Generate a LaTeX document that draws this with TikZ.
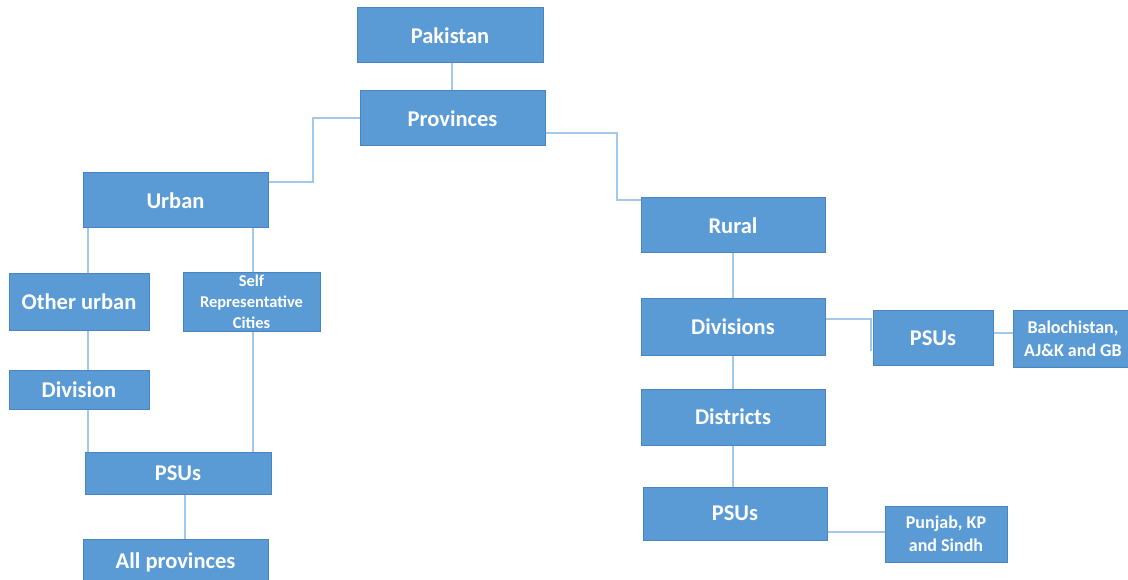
\documentclass[tikz,border=0pt]{standalone}
\usepackage{fontspec}
\setmainfont{Carlito}
\pgfdeclarelayer{bg}
\pgfsetlayers{bg,main}
\definecolor{boxfill}{HTML}{5B9BD5}
\definecolor{boxline}{HTML}{4A85C0}
\definecolor{linkcol}{HTML}{A4C8EA}
\tikzset{
  box/.style={draw=boxline, line width=1pt, fill=boxfill, text=white, inner sep=0pt,
    font=\bfseries\fontsize{22.5}{27}\selectfont, align=center},
  midtext/.style={font=\bfseries\fontsize{18}{23}\selectfont},
  smalltext/.style={font=\bfseries\fontsize{16.5}{21}\selectfont},
  link/.style={draw=linkcol, line width=2pt}
}
\begin{document}
\begin{tikzpicture}[x=1pt,y=-1pt]
\useasboundingbox (0,0) rectangle (1128,580);
\clip (0,0) rectangle (1128,580);
% nodes
\node[box, minimum width=186pt, minimum height=55pt] (pak) at (450,35.5) {Pakistan};
\node[box, minimum width=185pt, minimum height=55pt] (prov) at (452.5,118.5) {Provinces};
\node[box, minimum width=185pt, minimum height=55pt] (urban) at (175.5,200.5) {Urban};
\node[box, minimum width=140pt, minimum height=56pt] (ourb) at (79,302) {Other urban};
\node[box, smalltext, minimum width=137pt, minimum height=58pt] (self) at (251.5,302) {Self\\Representative\\Cities};
\node[box, minimum width=140pt, minimum height=39pt] (div) at (79,389.5) {Division};
\node[box, minimum width=186pt, minimum height=42pt] (psl) at (178,473) {PSUs};
\node[box, minimum width=185pt, minimum height=46pt] (allp) at (175.5,562) {All provinces};
\node[box, minimum width=184pt, minimum height=55pt] (rural) at (733,225.5) {Rural};
\node[box, minimum width=184pt, minimum height=56pt] (divs) at (733,327) {Divisions};
\node[box, minimum width=120pt, minimum height=54pt] (psr1) at (933,338) {PSUs};
\node[box, midtext, minimum width=120pt, minimum height=56pt] (bal) at (1073,339) {Balochistan,\\AJ\&K and GB};
\node[box, minimum width=184pt, minimum height=56pt] (dist) at (733,417) {Districts};
\node[box, minimum width=184pt, minimum height=53pt] (psr2) at (735,513.5) {PSUs};
\node[box, midtext, minimum width=122pt, minimum height=56pt] (pun) at (946,534) {Punjab, KP\\and Sindh};
% connector helper coordinates
\coordinate (c1) at (313,182);
\coordinate (c2) at (617,200);
\coordinate (u0) at (452,0);
\coordinate (u1) at (87.5,0);
\coordinate (u2) at (252.5,0);
\coordinate (u3) at (185,0);
\coordinate (r1) at (871,319);
\coordinate (r1b) at (871,351);
\coordinate (r2) at (0,333);
\coordinate (r3) at (0,532);
\begin{pgfonlayer}{bg}
\draw[link] (pak.south -| u0) -- (prov.north -| u0);
\draw[link] (prov.west) -| (c1) -- (c1 -| urban.east);
\draw[link] ([yshift=-14.5pt]prov.east) -| (c2) -- (c2 -| rural.west);
\draw[link] (urban.south -| u1) -- (ourb.north -| u1);
\draw[link] (ourb.south -| u1) -- (div.north -| u1);
\draw[link] (div.south -| u1) -- (psl.north -| u1);
\draw[link] (urban.south -| u2) -- (self.north -| u2);
\draw[link] (self.south -| u2) -- (psl.north -| u2);
\draw[link] (psl.south -| u3) -- (allp.north -| u3);
\draw[link] (rural.south) -- (divs.north);
\draw[link] (divs.south) -- (dist.north);
\draw[link] (dist.south) -- (dist.south |- psr2.north);
\draw[link] (divs.east |- r1) -- (r1) -- (r1b);
\draw[link] (psr1.east |- r2) -- (bal.west |- r2);
\draw[link] (psr2.east |- r3) -- (pun.west |- r3);
\end{pgfonlayer}
\end{tikzpicture}
\end{document}
